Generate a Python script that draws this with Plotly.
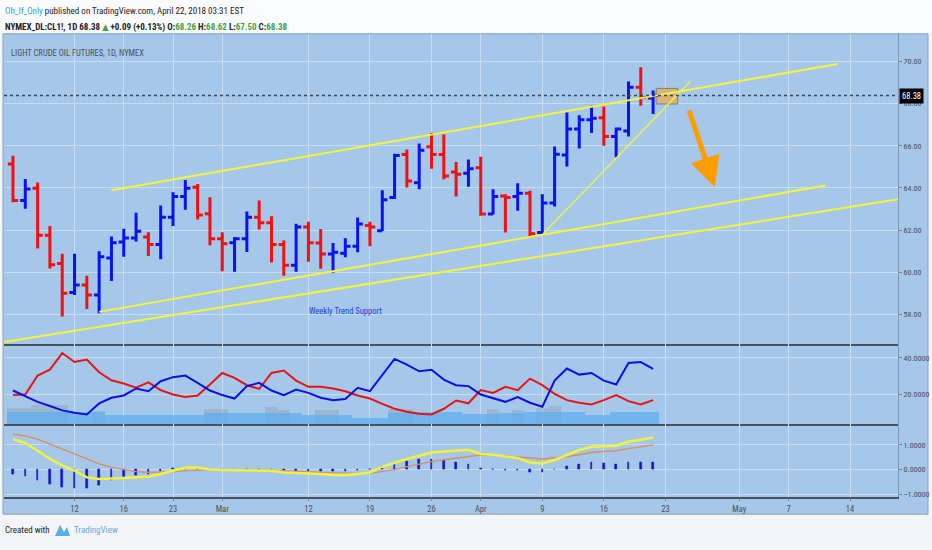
import plotly.graph_objects as go

# daily bars, CL1! Feb 5 - Apr 20 2018
days = ["2018-02-05", "2018-02-06", "2018-02-07", "2018-02-08", "2018-02-09",
        "2018-02-12", "2018-02-13", "2018-02-14", "2018-02-15", "2018-02-16",
        "2018-02-20", "2018-02-21", "2018-02-22", "2018-02-23",
        "2018-02-26", "2018-02-27", "2018-02-28", "2018-03-01", "2018-03-02",
        "2018-03-05", "2018-03-06", "2018-03-07", "2018-03-08", "2018-03-09",
        "2018-03-12", "2018-03-13", "2018-03-14", "2018-03-15", "2018-03-16",
        "2018-03-19", "2018-03-20", "2018-03-21", "2018-03-22", "2018-03-23",
        "2018-03-26", "2018-03-27", "2018-03-28", "2018-03-29",
        "2018-04-02", "2018-04-03", "2018-04-04", "2018-04-05", "2018-04-06",
        "2018-04-09", "2018-04-10", "2018-04-11", "2018-04-12", "2018-04-13",
        "2018-04-16", "2018-04-17", "2018-04-18", "2018-04-19", "2018-04-20"]

opens = [65.13, 63.40, 63.98, 61.75, 60.41, 59.04, 59.39, 58.92, 60.68, 61.43,
         61.62, 61.67, 61.31, 62.61, 63.59, 64.03, 62.77, 61.59, 61.40, 61.59,
         62.61, 62.35, 61.31, 60.33, 62.14, 61.39, 60.87, 60.90, 61.23, 62.22,
         61.97, 63.55, 65.59, 64.25, 65.95, 65.59, 64.76, 64.69, 64.96, 62.76,
         63.62, 63.59, 63.75, 61.89, 63.28, 65.56, 66.79, 67.23, 67.33, 66.44,
         66.70, 68.77, 68.26]
highs = [65.52, 64.42, 64.26, 62.19, 60.88, 60.88, 59.83, 60.99, 61.70, 62.06,
         62.82, 61.90, 63.16, 63.79, 64.37, 64.18, 63.56, 61.90, 61.67, 62.88,
         63.40, 62.66, 61.51, 62.30, 62.40, 62.05, 61.39, 61.61, 62.60, 62.40,
         63.89, 65.62, 65.82, 66.11, 66.61, 66.53, 65.23, 65.35, 65.48, 63.94,
         63.70, 64.22, 63.86, 63.70, 65.97, 67.58, 67.45, 67.90, 67.86, 66.87,
         69.05, 69.72, 68.62]
lows = [63.32, 63.01, 61.12, 60.18, 57.90, 58.92, 58.26, 58.05, 59.58, 60.73,
        61.46, 60.77, 60.62, 62.19, 62.96, 62.50, 61.28, 60.05, 60.02, 60.96,
        62.03, 60.46, 59.83, 60.02, 60.50, 60.16, 59.98, 60.71, 60.95, 61.23,
        61.95, 63.47, 64.02, 63.94, 64.91, 64.41, 63.59, 64.06, 62.68, 62.74,
        61.89, 62.92, 61.66, 61.77, 63.12, 65.02, 65.87, 66.60, 66.00, 65.45,
        66.44, 67.90, 67.50]
closes = [63.40, 63.95, 61.75, 60.36, 59.00, 59.39, 58.92, 60.73, 61.40, 61.62,
          61.94, 61.31, 62.61, 63.59, 63.98, 62.72, 61.59, 61.35, 61.59, 62.61,
          62.35, 61.31, 60.33, 62.14, 61.40, 60.87, 60.95, 61.23, 62.29, 62.15,
          63.44, 65.54, 64.33, 65.79, 65.59, 64.57, 64.65, 64.91, 62.76, 63.59,
          63.55, 63.75, 61.82, 63.28, 65.60, 66.79, 67.23, 67.30, 66.44, 66.79,
          68.77, 68.29, 68.38]

# DMI pane
plus_di = [22.2, 19.1, 16.0, 13.7, 11.3, 10.0, 9.1, 15.1, 18.2, 19.5, 23.3, 21.8,
           27.3, 29.5, 30.4, 26.4, 22.2, 19.7, 17.8, 24.6, 26.4, 22.2, 19.7, 22.7,
           20.9, 18.2, 16.9, 17.5, 23.7, 21.8, 30.9, 39.5, 36.4, 32.7, 33.6, 28.2,
           25.1, 24.6, 20.0, 18.2, 16.0, 18.6, 15.5, 13.3, 27.6, 34.2, 30.9, 31.8,
           27.6, 25.5, 37.3, 37.8, 34.0]
minus_di = [19.7, 20.0, 30.4, 33.6, 42.7, 37.8, 39.1, 32.2, 27.8, 26.0, 23.7, 26.7,
            22.4, 20.0, 18.6, 19.5, 25.5, 31.8, 29.1, 25.1, 23.1, 31.8, 33.1, 27.6,
            24.2, 24.2, 23.3, 21.8, 19.5, 17.8, 14.9, 12.2, 10.6, 9.5, 9.1, 12.2,
            16.7, 15.2, 22.4, 20.9, 24.2, 22.4, 28.7, 25.1, 20.4, 16.9, 15.5, 14.6,
            16.9, 19.7, 16.4, 14.6, 16.9]
vol_blue = [10.6, 10.6, 10.6, 10.6, 10.6, 10.6, 10.6, 10.6, 8.8, 8.8, 8.8, 8.8,
            8.8, 8.8, 8.8, 8.8, 10.0, 10.0, 10.0, 10.0, 10.0, 10.0, 10.0, 10.0,
            8.8, 8.8, 8.8, 8.8, 7.3, 7.3, 7.3, 10.0, 10.0, 10.6, 10.6, 10.6,
            10.6, 9.5, 9.5, 9.5, 10.0, 10.0, 10.6, 10.6, 10.6, 10.6, 10.6, 8.8,
            8.8, 10.6, 10.6, 10.6, 10.6]
vol_gray = [12.7, 12.7, 14.0, 14.0, 14.0, 0, 0, 10.9, 0, 0, 0, 0,
            0, 0, 0, 0, 12.2, 12.2, 0, 0, 0, 13.1, 11.5, 0,
            0, 11.3, 11.3, 0, 0, 0, 0, 12.2, 12.2, 0, 0, 0,
            0, 0, 0, 12.0, 0, 11.3, 0, 12.5, 13.5, 0, 0, 0,
            0, 0, 0, 0, 0]

# MACD pane
macd = [1.23, 1.07, 0.76, 0.44, 0.17, -0.04, -0.31, -0.37, -0.35, -0.32, -0.31, -0.28,
        -0.17, -0.04, 0.09, 0.09, 0.01, -0.01, -0.01, -0.01, -0.01, -0.04, -0.11, -0.12,
        -0.15, -0.17, -0.21, -0.21, -0.17, -0.11, 0.12, 0.29, 0.43, 0.56, 0.69, 0.73,
        0.76, 0.80, 0.63, 0.60, 0.53, 0.47, 0.29, 0.25, 0.39, 0.60, 0.79, 0.92,
        0.93, 0.96, 1.12, 1.19, 1.29]
signal = [1.43, 1.36, 1.23, 1.03, 0.83, 0.60, 0.40, 0.23, 0.09, -0.01, -0.08, -0.11,
          -0.11, -0.08, -0.04, -0.01, 0.00, 0.00, 0.00, 0.00, 0.00, -0.01, -0.04, -0.07,
          -0.08, -0.11, -0.13, -0.15, -0.15, -0.15, -0.08, 0.00, 0.12, 0.23, 0.32, 0.40,
          0.47, 0.52, 0.59, 0.59, 0.56, 0.52, 0.47, 0.43, 0.47, 0.52, 0.60, 0.69,
          0.73, 0.76, 0.85, 0.92, 1.00]
hist = [-0.20, -0.28, -0.41, -0.57, -0.71, -0.77, -0.75, -0.61, -0.44, -0.31, -0.24, -0.17,
        -0.07, 0.05, 0.09, 0.09, 0.02, -0.01, -0.01, -0.01, -0.01, -0.02, -0.07, -0.06,
        -0.07, -0.08, -0.08, -0.08, -0.03, 0.03, 0.12, 0.25, 0.33, 0.40, 0.40, 0.36,
        0.29, 0.23, 0.05, 0.01, -0.01, -0.02, -0.11, -0.12, 0.01, 0.12, 0.23, 0.29,
        0.25, 0.20, 0.29, 0.29, 0.29]

# weekly axis labels
tick_days = ["2018-02-12", "2018-02-16", "2018-02-23", "2018-03-01", "2018-03-12",
             "2018-03-19", "2018-03-26", "2018-04-02", "2018-04-09", "2018-04-16",
             "2018-04-23", "2018-05-01", "2018-05-07", "2018-05-14"]
tick_text = ["12", "16", "23", "Mar", "12", "19", "26", "Apr", "9", "16",
             "23", "May", "7", "14"]

# drawings: (day, price) pairs
channel_top = [("2018-02-15", 63.89), ("2018-05-11", 69.88)]
channel_bottom = [("2018-02-14", 58.12), ("2018-05-10", 64.11)]
weekly_support = [("2018-02-01", 56.57), ("2018-05-22", 63.84)]
rising_line = [("2018-04-09", 61.78), ("2018-04-25", 69.05)]
box_days = ["2018-04-20 18:00", "2018-04-24 12:00"]
box_prices = [67.98, 68.72]
arrow_tip = ("2018-04-27", 64.04)

symbol = "NYMEX_DL:CL1!, 1D"
last = 68.38
chg, chg_pct = 0.09, 0.13
o_last, h_last, l_last, c_last = 68.26, 68.62, 67.50, 68.38

noon = lambda d: d + " 12:00"
x = [noon(d) for d in days]

W, H = 932, 550
px = lambda v: v / W
py = lambda v: 1 - v / H

font = "Liberation Sans Narrow, Roboto Condensed, DejaVu Sans Condensed, sans-serif"
bg = "#a5c7ea"
grid = "#c8dcf2"
green = "#43a047"

fig = go.Figure()

fig.add_trace(go.Bar(x=x, y=vol_gray, xaxis="x2", yaxis="y2",
                     marker=dict(color="rgba(150,160,178,0.45)", line=dict(width=0))))
fig.add_trace(go.Bar(x=x, y=vol_blue, xaxis="x2", yaxis="y2",
                     marker=dict(color="rgba(95,175,240,0.75)", line=dict(width=0))))
fig.add_trace(go.Scatter(x=x, y=minus_di, xaxis="x2", yaxis="y2", mode="lines",
                         line=dict(color="#e81414", width=2)))
fig.add_trace(go.Scatter(x=x, y=plus_di, xaxis="x2", yaxis="y2", mode="lines",
                         line=dict(color="#0c10e0", width=2)))

fig.add_trace(go.Bar(x=x, y=hist, xaxis="x3", yaxis="y3", width=1.1e7,
                     marker=dict(color="#1414c8", line=dict(color="#1414c8", width=0.6))))
fig.add_trace(go.Scatter(x=x, y=signal, xaxis="x3", yaxis="y3", mode="lines",
                         line=dict(color="#d98e63", width=1.3)))
fig.add_trace(go.Scatter(x=x, y=macd, xaxis="x3", yaxis="y3", mode="lines",
                         line=dict(color="#f2f23a", width=2.5)))

fig.add_trace(go.Ohlc(x=x, open=opens, high=highs, low=lows, close=closes,
                      xaxis="x", yaxis="y", tickwidth=0.42,
                      increasing=dict(line=dict(color="#0a12f0", width=3)),
                      decreasing=dict(line=dict(color="#f21010", width=3))))

breaks = [dict(bounds=["sat", "mon"]), dict(values=["2018-02-19", "2018-03-30"])]
xrange = ["2018-02-02 18:30", "2018-05-18 09:30"]
xdom = [px(4), px(898)]
common_x = dict(type="date", domain=xdom, range=xrange, rangebreaks=breaks,
                tickmode="array", tickvals=[noon(d) for d in tick_days], ticktext=tick_text,
                showgrid=True, gridcolor=grid, gridwidth=1, zeroline=False,
                showline=True, linecolor="#46515c", linewidth=1.5,
                rangeslider=dict(visible=False))
common_y = dict(side="right", showgrid=True, gridcolor=grid, zeroline=False,
                showline=True, linecolor="#7d97b3", linewidth=1,
                ticks="outside", ticklen=3, tickcolor="#6d7f92",
                tickfont=dict(family=font, size=8, color="#4a4f55"), fixedrange=True)

fig.update_layout(
    width=W, height=H, autosize=False,
    margin=dict(l=0, r=0, t=0, b=0),
    paper_bgcolor="#f3f5f8", plot_bgcolor=bg,
    showlegend=False, barmode="overlay", bargap=0,
    font=dict(family=font, size=9, color="#333"),
    xaxis=dict(common_x, anchor="y", showticklabels=False, ticks=""),
    xaxis2=dict(common_x, anchor="y2", matches="x", showticklabels=False, ticks=""),
    xaxis3=dict(common_x, anchor="y3", matches="x", showticklabels=True,
                ticks="outside", ticklen=3, tickcolor="#6d7f92",
                tickfont=dict(family=font, size=8.5, color="#4a4f55")),
    yaxis=dict(common_y, anchor="x", domain=[py(346), py(34)], range=[56.59, 71.31],
               tickvals=[58, 60, 62, 64, 66, 68, 70], tickformat=".2f"),
    yaxis2=dict(common_y, anchor="x2", domain=[py(426.7), py(346)], range=[3.65, 47.6],
                tickvals=[20, 40], tickformat=".4f"),
    yaxis3=dict(common_y, anchor="x3", domain=[py(499.3), py(426.7)], range=[-1.08, 1.82],
                tickvals=[-1, 0, 1], tickformat=".4f"),
)

# chart frame behind everything
fig.add_shape(type="rect", xref="paper", yref="paper", x0=px(3), x1=px(928),
              y0=py(517), y1=py(34), fillcolor=bg, line=dict(color="#8aa2bd", width=1),
              layer="below")
# white strip behind the header
fig.add_shape(type="rect", xref="paper", yref="paper", x0=0, x1=1, y0=py(33), y1=1,
              fillcolor="#fbfcfd", line=dict(width=0), layer="below")

yellow = "#f4f43c"
for pts, w in [(channel_top, 2), (channel_bottom, 2), (weekly_support, 2), (rising_line, 1.3)]:
    (d0, p0), (d1, p1) = pts
    fig.add_shape(type="line", xref="x", yref="y", x0=noon(d0), y0=p0, x1=noon(d1), y1=p1,
                  line=dict(color=yellow, width=w), layer="above")

fig.add_shape(type="rect", xref="x", yref="y", x0=box_days[0], x1=box_days[1],
              y0=box_prices[0], y1=box_prices[1], fillcolor="rgba(228,172,92,0.8)",
              line=dict(color="#7f7f7f", width=1), layer="between")

fig.add_shape(type="line", xref="x domain", yref="y", x0=0, x1=1, y0=last, y1=last,
              line=dict(color="#34495e", width=1.5, dash="dot"), layer="above")

# little logo next to "TradingView"
fig.add_shape(type="path", xref="paper", yref="paper",
              path=f"M {px(55)},{py(539)} L {px(60)},{py(528)} L {px(64)},{py(535)} "
                   f"L {px(67)},{py(530)} L {px(70)},{py(539)} Z",
              fillcolor="#5aaee3", line=dict(width=0))

fig.add_annotation(xref="paper", yref="paper", x=px(3), y=py(11), xanchor="left",
                   yanchor="middle", showarrow=False,
                   text="<span style='color:#3a9fe6'>Oh_If_Only</span> published on "
                        "TradingView.com, April 22, 2018 03:31 EST",
                   font=dict(family=font, size=9, color="#222"))
g = lambda v: f"<span style='color:{green}'>{v:.2f}</span>"
fig.add_annotation(xref="paper", yref="paper", x=px(3), y=py(28), xanchor="left",
                   yanchor="middle", showarrow=False,
                   text=f"<b>{symbol} {last:.2f} <span style='color:{green}'>▲</span> "
                        f"+{chg:.2f} (+{chg_pct:.2f}%) O:{g(o_last)} H:{g(h_last)} "
                        f"L:{g(l_last)} C:{g(c_last)}</b>",
                   font=dict(family=font, size=9, color="#222"))
fig.add_annotation(xref="paper", yref="paper", x=px(9), y=py(53), xanchor="left",
                   yanchor="middle", showarrow=False,
                   text="LIGHT CRUDE OIL FUTURES, 1D, NYMEX",
                   font=dict(family=font, size=8.5, color="#4a5058"))
fig.add_annotation(xref="x", yref="y", x=noon("2018-03-15"), y=58.15, showarrow=False,
                   text="Weekly Trend Support", font=dict(family=font, size=8.5, color="#2440d4"))
fig.add_annotation(xref="paper", yref="y", x=px(899), y=last, xanchor="left",
                   showarrow=False, text=f"{last:.2f}", bgcolor="#000000", borderpad=2,
                   font=dict(family=font, size=8.5, color="#ffffff"))
fig.add_annotation(xref="x", yref="y", x=noon(arrow_tip[0]), y=arrow_tip[1], text="",
                   showarrow=True, ax=-26, ay=-78, arrowcolor="#ff9c00", arrowwidth=5,
                   arrowhead=2, arrowsize=1.2, standoff=0)
fig.add_annotation(xref="paper", yref="paper", x=px(3), y=py(533), xanchor="left",
                   yanchor="middle", showarrow=False, text="Created with",
                   font=dict(family=font, size=9, color="#222"))
fig.add_annotation(xref="paper", yref="paper", x=px(72), y=py(533), xanchor="left",
                   yanchor="middle", showarrow=False, text="TradingView",
                   font=dict(family=font, size=9, color="#5aaee3"))

# the page's default body margin would push the figure off the 932x550 window
fig.write_html("out.html", config={"displayModeBar": False},
               post_script="document.body.style.margin='0';")
